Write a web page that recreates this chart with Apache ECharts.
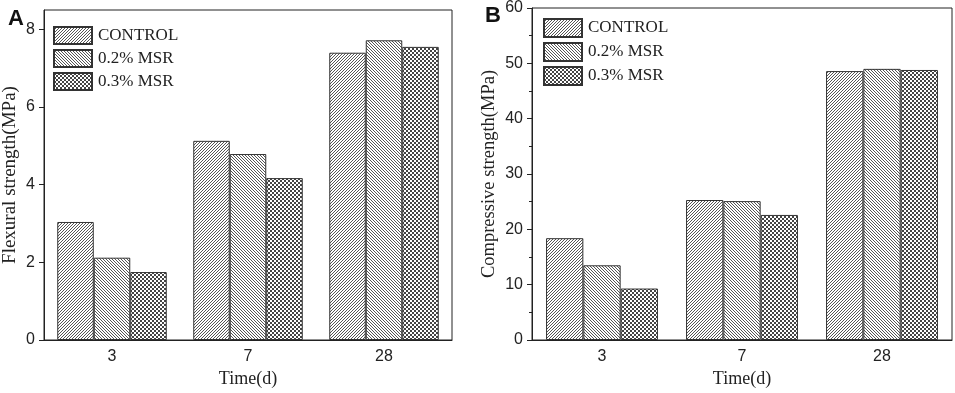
<!DOCTYPE html>
<html>
<head>
<meta charset="utf-8">
<script src="https://cdn.jsdelivr.net/npm/echarts@6/dist/echarts.min.js"></script>
<style>
  html, body { margin: 0; padding: 0; background: #fff; }
  #chart { width: 955px; height: 393px; }
</style>
</head>
<body>
<div id="chart"></div>
<script>
// data
const days = ['3', '7', '28']
const seriesNames = ['CONTROL', '0.2% MSR', '0.3% MSR']

const flexControl = [3.04, 5.13, 7.40]
const flexMsr02 = [2.12, 4.79, 7.72]
const flexMsr03 = [1.75, 4.17, 7.55]

const compControl = [18.4, 25.3, 48.6]
const compMsr02 = [13.5, 25.1, 49.0]
const compMsr03 = [9.3, 22.6, 48.8]

const flexTicks = [0, 2, 4, 6, 8]

// small hatch patterns drawn on canvas
function makePattern(kind) {
  const c = document.createElement('canvas')
  const ctx = c.getContext('2d')
  if (kind === 'check') {
    c.width = 4; c.height = 4
    ctx.fillStyle = '#fff'
    ctx.fillRect(0, 0, 4, 4)
    ctx.fillStyle = '#444'
    ctx.fillRect(0, 0, 2, 2)
    ctx.fillRect(2, 2, 2, 2)
  } else {
    c.width = 3; c.height = 3
    ctx.fillStyle = '#fff'
    ctx.fillRect(0, 0, 3, 3)
    ctx.fillStyle = '#555'
    for (let i = 0; i < 3; i++) {
      const x = kind === 'fwd' ? 2 - i : i
      ctx.fillRect(x, i, 1, 1)
    }
  }
  return { image: c, repeat: 'repeat' }
}

const patterns = [makePattern('fwd'), makePattern('back'), makePattern('check')]

const serifFont = '"Liberation Serif", "Times New Roman", serif'
const sansFont = '"Liberation Sans", Arial, sans-serif'
const ink = '#222'

function xAxes(gridIndex) {
  return [
    {
      type: 'category',
      gridIndex,
      data: days,
      position: 'bottom',
      name: 'Time(d)',
      nameLocation: 'middle',
      nameGap: 30,
      nameTextStyle: { fontFamily: serifFont, fontSize: 18, color: ink },
      axisLine: { lineStyle: { color: ink, width: 1 } },
      axisTick: { length: 3, lineStyle: { color: ink } },
      axisLabel: { fontFamily: sansFont, fontSize: 16, color: ink, margin: 9 },
      splitLine: { show: false }
    },
    {
      type: 'category',
      gridIndex,
      data: days,
      position: 'bottom',
      axisLine: { show: false },
      axisTick: { alignWithLabel: true, length: 5, lineStyle: { color: ink } },
      axisLabel: { show: false },
      splitLine: { show: false }
    }
  ]
}

function bars(values, idx, xAxisIndex, yAxisIndex, barWidth) {
  return {
    name: seriesNames[idx],
    type: 'bar',
    xAxisIndex,
    yAxisIndex,
    barWidth,
    barGap: '0%',
    itemStyle: { color: patterns[idx], borderColor: '#333', borderWidth: 1 },
    emphasis: { disabled: true },
    data: values
  }
}

function legendAt(left, top, h, gap) {
  return {
    orient: 'vertical',
    left,
    top,
    padding: 0,
    itemWidth: 38,
    itemHeight: h,
    itemGap: gap,
    icon: 'rect',
    selectedMode: false,
    data: seriesNames,
    textStyle: { fontFamily: serifFont, fontSize: 17, lineHeight: h, color: ink, padding: [0, 0, 0, 1] }
  }
}

const chart = echarts.init(document.getElementById('chart'))

chart.setOption({
  animation: false,
  backgroundColor: '#fff',
  title: [
    { text: 'A', left: 3, top: 3, textStyle: { fontFamily: sansFont, fontWeight: 'bold', fontSize: 22, color: '#111' } },
    { text: 'B', left: 480, top: 0, textStyle: { fontFamily: sansFont, fontWeight: 'bold', fontSize: 22, color: '#111' } }
  ],
  legend: [
    legendAt(53, 26, 17, 4),
    legendAt(543, 18, 18, 4)
  ],
  grid: [
    { left: 43, top: 10, width: 409, height: 331, show: true, borderColor: ink, borderWidth: 1, backgroundColor: 'transparent' },
    { left: 532, top: 6, width: 420, height: 337, show: true, borderColor: ink, borderWidth: 1, backgroundColor: 'transparent' }
  ],
  xAxis: [...xAxes(0), ...xAxes(1)],
  yAxis: [
    {
      type: 'value',
      gridIndex: 0,
      min: 0,
      max: 8.5,
      interval: 2,
      name: 'Flexural strength(MPa)',
      nameLocation: 'middle',
      nameGap: 24,
      nameTextStyle: { fontFamily: serifFont, fontSize: 19, color: ink },
      axisLine: { show: true, lineStyle: { color: ink } },
      axisTick: { show: true, length: 5, customValues: flexTicks, lineStyle: { color: ink } },
      axisLabel: { fontFamily: sansFont, fontSize: 16, color: ink, margin: 9, customValues: flexTicks },
      splitLine: { show: false }
    },
    {
      type: 'value',
      gridIndex: 1,
      min: 0,
      max: 60,
      interval: 10,
      name: 'Compressive strength(MPa)',
      nameLocation: 'middle',
      nameGap: 33,
      nameTextStyle: { fontFamily: serifFont, fontSize: 18.5, color: ink },
      axisLine: { show: true, lineStyle: { color: ink } },
      axisTick: { show: true, length: 5, lineStyle: { color: ink } },
      minorTick: { show: true, splitNumber: 2, length: 3, lineStyle: { color: ink } },
      axisLabel: { fontFamily: sansFont, fontSize: 16, color: ink, margin: 9 },
      splitLine: { show: false }
    }
  ],
  series: [
    bars(flexControl, 0, 0, 0, 36.5),
    bars(flexMsr02, 1, 0, 0, 36.5),
    bars(flexMsr03, 2, 0, 0, 36.5),
    bars(compControl, 0, 2, 1, 37.3),
    bars(compMsr02, 1, 2, 1, 37.3),
    bars(compMsr03, 2, 2, 1, 37.3)
  ]
})
</script>
</body>
</html>
